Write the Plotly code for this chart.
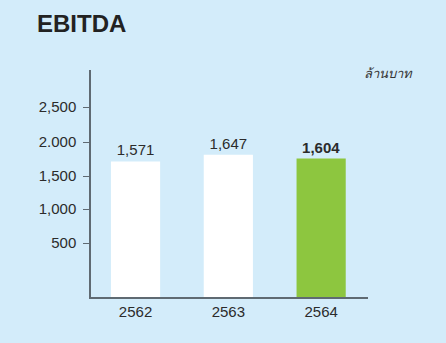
import plotly.graph_objects as go

years = ["2562", "2563", "2564"]
ebitda = [1571, 1647, 1604]
value_labels = ["1,571", "1,647", "<b>1,604</b>"]
y_tick_labels = ["500", "1,000", "1,500", "2.000", "2,500"]
unit_label = "ล้านบาท"
title_text = "EBITDA"

bg = "#d3ecfa"
bar_colors = ["#ffffff", "#ffffff", "#8dc63f"]
axis_col = "#5f6a72"
txt = "#2b2b2b"
font_fam = "Liberation Sans, Arial, sans-serif"

fig = go.Figure()
fig.add_trace(go.Bar(
    x=list(range(len(years))), y=ebitda,
    marker=dict(color=bar_colors, line=dict(width=0)),
    width=0.53,
    text=value_labels, textposition="outside",
    textfont=dict(size=15, color=txt, family=font_fam),
    cliponaxis=False,
))

# tick positions (visual placement of the reference's axis labels)
tick_positions = [625, 1018, 1400, 1795, 2200]

fig.update_layout(
    width=446, height=343,
    margin=dict(l=91, r=78, t=70, b=46),
    paper_bgcolor=bg, plot_bgcolor=bg,
    showlegend=False,
    font=dict(family=font_fam, color=txt),
    xaxis=dict(
        range=[-0.48, 2.505],
        tickvals=list(range(len(years))), ticktext=years,
        showline=True, linecolor=axis_col, linewidth=1.5,
        ticks="", showgrid=False, zeroline=False,
        tickfont=dict(size=15, color=txt),
    ),
    yaxis=dict(
        range=[0, 2630],
        tickvals=tick_positions, ticktext=y_tick_labels,
        showline=True, linecolor=axis_col, linewidth=1.5,
        ticks="outside", ticklen=6, tickcolor=axis_col, tickwidth=1,
        ticklabelstandoff=4,
        showgrid=False, zeroline=False,
        tickfont=dict(size=15, color=txt),
    ),
)

pw = 446 - 91 - 78
ph = 343 - 70 - 46
fig.add_annotation(
    text="<b>" + title_text + "</b>", x=(35 - 91) / pw, y=(343 - 46 - 24) / ph,
    xref="paper", yref="paper", showarrow=False,
    font=dict(size=24, color="#222222", family=font_fam),
    xanchor="left", yanchor="middle",
)
fig.add_annotation(
    text="<i>" + unit_label + "</i>", x=(388 - 91) / pw, y=(343 - 46 - 73) / ph,
    xref="paper", yref="paper", showarrow=False,
    font=dict(size=13, color="#333333"),
    xanchor="center", yanchor="middle",
)

fig.write_html("out.html")
